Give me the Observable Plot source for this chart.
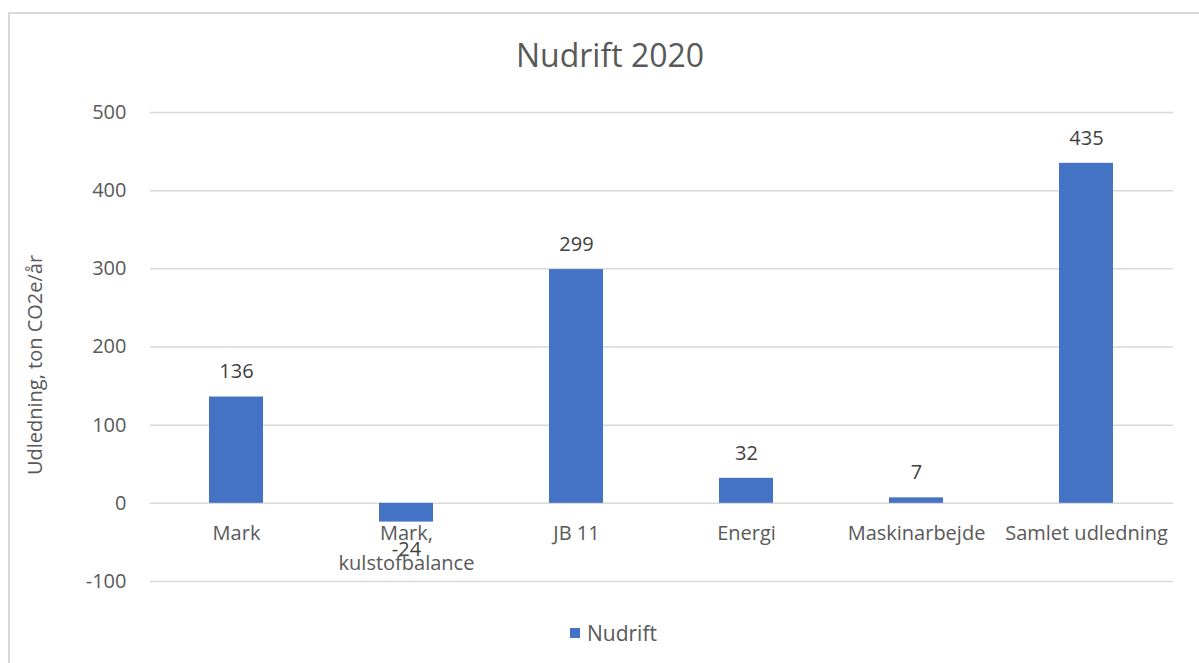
<!DOCTYPE html>
<html><head><meta charset="utf-8">
<script src="https://cdn.jsdelivr.net/npm/d3@7"></script>
<script src="https://cdn.jsdelivr.net/npm/@observablehq/plot@0.6"></script>
<style>
body{margin:0;background:#fff;font-family:"Open Sans",sans-serif;width:1199px;height:663px;overflow:hidden;position:relative}
#frame{position:absolute;left:8px;top:12px;width:1300px;height:800px;border:2px solid #d9d9d9;box-sizing:border-box}
#title{position:absolute;left:0;top:33px;width:1220px;text-align:center;font-size:32px;color:#595959;line-height:44px}
#chart{position:absolute;left:0;top:90px}
#legend{position:absolute;top:619px;left:570px;font-size:21px;color:#595959;display:flex;align-items:center;line-height:28px}
#legend .sw{width:10px;height:10px;background:#4472C4;margin-right:7px}
</style></head>
<body>
<div id="frame"></div>
<div id="title">Nudrift 2020</div>
<div id="chart"></div>
<div id="legend"><span class="sw"></span><span>Nudrift</span></div>
<script>
const categories = ["Mark", "Mark, kulstofbalance", "JB 11", "Energi", "Maskinarbejde", "Samlet udledning"];
const xLabels = ["Mark", "Mark,\nkulstofbalance", "JB 11", "Energi", "Maskinarbejde", "Samlet udledning"];
const values = [136, -24, 299, 32, 7, 435];
const yTicks = [-100, 0, 100, 200, 300, 400, 500];
const yLabel = "Udledning, ton CO2e/år";

const data = categories.map((c, i) => ({cat: c, label: xLabels[i], value: values[i]}));

const chart = Plot.plot({
  width: 1199,
  height: 520,
  marginTop: 22,
  marginBottom: 29,
  marginLeft: 150,
  marginRight: 26,
  style: {fontFamily: "'Open Sans', sans-serif", color: "#595959", background: "transparent"},
  x: {domain: categories, paddingInner: 0.68, paddingOuter: 0.34, axis: null},
  y: {domain: [-100, 500], axis: null},
  marks: [
    Plot.gridY(yTicks, {stroke: "#d9d9d9", strokeOpacity: 1, strokeWidth: 1.5}),
    Plot.axisY(yTicks, {tickSize: 0, tickPadding: 24, fontSize: 20, fill: "#595959", label: null,
      tickFormat: d => String(d)}),
    Plot.barY(data, {x: "cat", y: "value", fill: "#4472C4"}),
    Plot.text(data, {x: "cat", y: "value", text: d => String(d.value), fontSize: 20, fill: "#404040",
      filter: d => d.value >= 0, dy: -25}),
    Plot.text(data, {x: "cat", y: "value", text: d => String(d.value), fontSize: 20, fill: "#404040",
      filter: d => d.value < 0, dy: 28}),
    Plot.text(data, {x: "cat", y: () => 0, text: "label", fontSize: 20, fill: "#595959",
      lineAnchor: "top", dy: 15, lineHeight: 1.5}),
    Plot.text([yLabel], {frameAnchor: "left", rotate: -90, textAnchor: "middle", dx: -115, dy: 18,
      fontSize: 20, fill: "#595959"})
  ]
});
document.getElementById("chart").appendChild(chart);
</script>
</body></html>
